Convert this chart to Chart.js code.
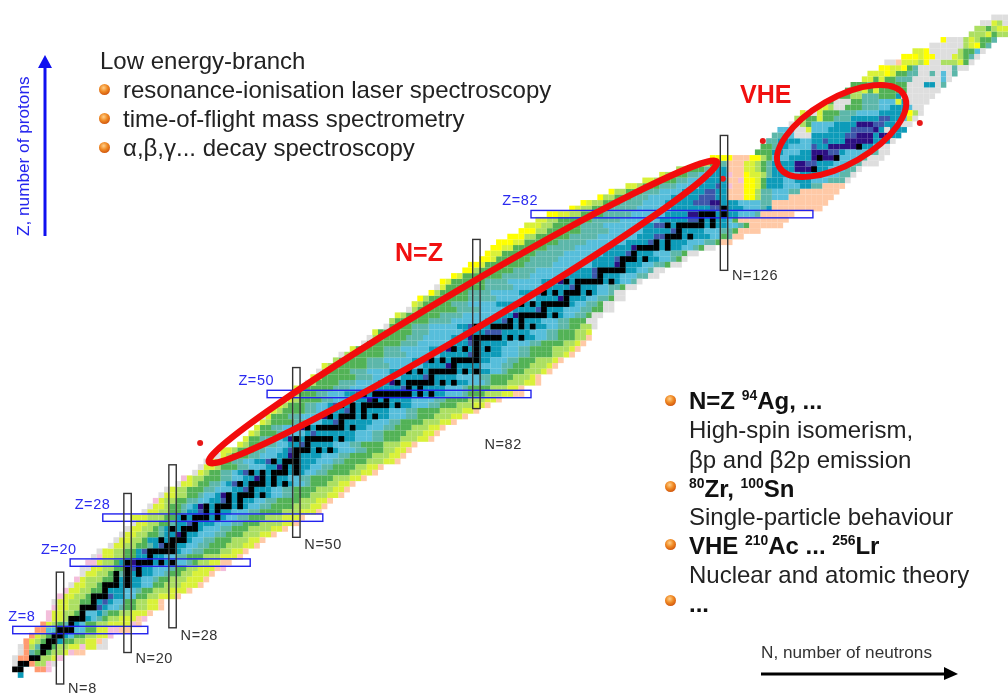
<!DOCTYPE html>
<html>
<head>
<meta charset="utf-8">
<title>Nuclear chart</title>
<script src="https://cdn.jsdelivr.net/npm/chart.js@4"></script>
<style>
html, body { margin: 0; padding: 0; background: #fff; }
#wrap { position: relative; width: 1008px; height: 696px; overflow: hidden; font-family: "Liberation Sans", Arial, sans-serif; color: #222; }
canvas { position: absolute; left: 0; top: 0; filter: blur(0.55px); }
.t { position: absolute; white-space: nowrap; font-size: 24px; line-height: 1; filter: blur(0.35px); }
.t b { color: #111; }
.t sup { font-size: 58%; line-height: 0; vertical-align: 0.62em; font-weight: bold; }
.ball { position: absolute; width: 11px; height: 11px; border-radius: 50%; background: radial-gradient(circle at 42% 35%, #ffcf8a 0%, #f08a24 40%, #c94a08 85%); filter: blur(0.3px); }
</style>
</head>
<body>
<div id="wrap">
<canvas id="myChart" width="1008" height="696"></canvas>

<div class="t" style="left:100px;top:49px">Low energy-branch</div>
<div class="t" style="left:123px;top:78px">resonance-ionisation laser spectroscopy</div>
<div class="t" style="left:123px;top:107px">time-of-flight mass spectrometry</div>
<div class="t" style="left:123px;top:136px">α,β,γ... decay spectroscopy</div>
<span class="ball" style="left:99px;top:84px"></span>
<span class="ball" style="left:99px;top:113px"></span>
<span class="ball" style="left:99px;top:142px"></span>

<div class="t" style="left:689px;top:389px"><b>N=Z <sup>94</sup>Ag, ...</b></div>
<div class="t" style="left:689px;top:418px">High-spin isomerism,</div>
<div class="t" style="left:689px;top:448px">βp and β2p emission</div>
<div class="t" style="left:689px;top:477px"><b><sup>80</sup>Zr, <sup>100</sup>Sn</b></div>
<div class="t" style="left:689px;top:505px">Single-particle behaviour</div>
<div class="t" style="left:689px;top:534px"><b>VHE <sup>210</sup>Ac ... <sup>256</sup>Lr</b></div>
<div class="t" style="left:689px;top:563px">Nuclear and atomic theory</div>
<div class="t" style="left:689px;top:592px"><b>...</b></div>
<span class="ball" style="left:665px;top:395px"></span>
<span class="ball" style="left:665px;top:481px"></span>
<span class="ball" style="left:665px;top:539px"></span>
<span class="ball" style="left:665px;top:595px"></span>

<div class="t" style="left:395px;top:240px;color:#f01010;font-weight:bold;font-size:25px">N=Z</div>
<div class="t" style="left:740px;top:82px;color:#f01010;font-weight:bold;font-size:25px">VHE</div>
<div class="t" style="left:761px;top:644px;font-size:17.2px;color:#333">N, number of neutrons</div>
<div class="t" style="left:15px;top:236px;font-size:17.2px;color:#2525ee;transform-origin:0 0;transform:rotate(-90deg)">Z, number of protons</div>
</div>

<script>
// first N of each row, index = Z
const rowStart = [1,0,0,0,1,1,2,3,4,5,6,6,7,7,8,9,10,11,12,12,13,14,15,17,18,19,20,21,21,23,24,25,26,27,29,30,32,33,34,36,
    37,40,41,42,43,44,44,46,47,49,50,50,52,53,54,55,57,58,60,62,63,64,66,67,68,70,71,72,74,75,76,78,80,81,83,84,85,86,88,90,
    91,93,95,99,101,104,106,109,112,115,118,122,124,132,133,134,135,136,138,139,140,143,145,147,148,149,151,152,154,155,158,160,163,165,170,171,172,174];

// colour runs of each row, letter + count, index = Z
const rowRuns = [
    "c1","_4r2q1","a1c2r1l2q1a1","a1r2c2l2m1q1","a1r1t1g3l2m1q1p2","a1r1l1t1c2g1l2m2q1m2a2",
    "r1m1l1g1t1c2g2l2m2p1a1","r1m1l1g1t1c2s1g2l2m2q1","r2s2c3s2g2m2q2p2","r1m1l1g1t1c2s1g2l2m4q1p1",
    "q1m2l1c4s1t1g1l2m3p1q1","q1m2l2g1c1s2c1t1g2l2m3p1","q1m2l2g1c2b1c1s2t1g2l2m2p1","a1m2l2g2c2b1c1s2g2l2m2p1",
    "q1m2l2g1t1c2b1c2s2g2l2m3p1","q1m2l2g2t1c2c1s2t1g2l3m3p1","a1m2l2g2t1c2i1c2s2g2l3m3p1","q1m1l3g2t1c2c1c1s2t1g2l3m3p1",
    "a1m2l2g2t1c2i1c2s2t1g2l2m3p1","a2m2l2g2t1b1c3s3t1g2l2m3p1q1","q2m1l2g1c2i1c7s2t1g1l2m2p2",
    "a1q1m2l2g2c2c1c2s2t2g3l3m3p1","a1m2l2g2c1b1c5c1s2t2g3l2m2p1","a1m2l2g2t1c1b1c2c2s2t2g3l3m2p1",
    "a1m2l2g1c2c5c1s2t2g3l3m2p1","a1m2l2g2t1c2i1c1c2s3t2g3l3m2p1","a1m2l2g1t1c1c5c1s3t2g3l4m2p1",
    "a1m2l2g2t1c2b1c1c3s3t2g3l4m2p1","m3l3g2c1c7c1s2t2g3l3m3p1","a1m2l2g2t1c2b1c3c2s3t2g4l3m3p1",
    "a1m2l1g2t1s1c1i1c7c1s2t2g4l3m2p1","q1m1l2g2t2s2c2b1c3c2s2t2g4l3m2p1","a1m2l2g2t1s2c1i1c7c1s2t2g3l3m2p1",
    "a1m1l2g3t2s3c2b1c1c3s2t2g4l3m2p1","a1m2l1g2t2s1c1b1c9c1s2t1g3l2m2p1","q1m1l2g3t2s2c2i1c3c2s2t2g4l3m2p1",
    "a1m1l1g2t2s1c1b1c9c1s2t2g4l2m2p1","a1m2l1g3t2s3c2i1c3c2s2t2g4l2m2p1","a1m1l1g2t2s2c2b1c5c3s3t2g4l3m2p1",
    "a1m1l1g3t2s3c2i1c1c4s3t2g4l3m2p1","m2l1g3t2s3c1b1c7c1s3t2g3l2m2p1","m1l1g3t2s2c2b1c1c4s3t2g4l3m2p1",
    "m1g2t2s2c1i1c9c2s3t2g3l3m2p1","m1l1g3t2s3c1b1c5c2s3t2g4l3m2p1","m1g2t2s2c1i1c9c2s3t2g3l3m2p1",
    "m1l1g4t2s3c2b1c1c5s3t2g4l3m2p1","a1m1g3t2s3c1i1c9c2s3t2g3l3m2p1","m1l1g4t2s3c2b1c3c4s3t2g4l4m2p1",
    "m1l1g3t2s2c1b1c11c2s3t2g3l3m2p1","m1l1g4t2s4c2i1c3c4s4t2g4l3m2p1","l1g3t2s3c2b1c13c2s3t1g3l3m2p2",
    "m1l1g5t3s5c4b1c3c4s3t1g4l3m2p1","a1l1g4t3s4c2i1c11c2s3t1g3l3m2p1","m1l1g6t3s5c4b1c1c4s4t2g4l3m1p1",
    "a1l1g4t3s4c2b1c13c2s2t1g3l3m1p1","m1l1g6t4s6c4i1c1c4s4t2g3l3m1p1","l1g5t3s5c2b1c9c2s3t2g3l3m1p1",
    "a1l1g6t4s6c5b1c1c4s3t2g4l2m1p1","m1g5t3s5c3i1c7c2s3t2g4l3m1p1","a1g6t3s6c3b1c1c5s4t2g4l2m1p1",
    "a1l1g5t3s5c3i1c9c2s2t2g3l2p1","m1g6t3s6c4b1b2c1c4s3t2g3l2m1","a1g4t3s5c2b1c11c2s2t2g2l2a1",
    "l1g6t4s6c3b1c3c3s3t2g3a2","m1l1g6t4s6c3i1c7c1s2t2g1a2","a1l1g7t4s6c4b1c1c3s3t2g2a2",
    "m1l1g5t3s5c3b1c9c1s2t2g1a2","y1l1g7t5s7c4i1c1c3s2t2g1a2","y1l1g5t4s5c3b1c9c1s2t1a2",
    "a1m1g7t5s6c4b1c1c3s2t2g1a2","y1m1g6t4s6c3i1c9c1s2t1a1","y1m1g7t5s6c5b1c1c3s3t2a2",
    "y2l1g6t4s6c4b1c5c2s2t1a2","y2m1g7t5s7c4i1c1c3s2t2g1a2","y2m1g6t5s6c4b1c5c2s2t1g1a1",
    "y1m2g6t5s7c4b1c1c3s3t2g1a2","y2m2g6t5s6c4i1c6c2s2t1g1a2","y3m2g6t5s7c4b1c3c3s3t2g1p2",
    "y3l2g6t5s7c3b2c5c3s2g1t1p2","y3l2g6t5s6c5b1c1c4s3t2g1p4","m3l2g5t4s6c3b2c9c2s2t1g1p6",
    "m2l2g6t5s7c5b2c3c2s1g1p9","y2m2l2g4t5s6c4i2c5c2s3t1p6","y1m1l2g3t5s6c7b2c4s3t1c1p9",
    "y1m1l2g3t4s4c5b3i2c1c2s4t2p10","y1l2g3t3s4c5b3c2p3y2l1t2s3p8","y1l2g3t3s4c4b2c1c1p3y2l1t2s3t2p7",
    "m2l1g3t3s4c3b1c1q1p2y2m1g1c3s3c2t2p4","m2l1g3t2s3c3c1p2q1y2m1g1c3s2c3s3t3a1","m1l1g3t2s2c2c1q1p2y1m2l1t1c3s2c4s3t2a1",
    "l2g3t2c2p3m2l1g1t1c4i4c2s3t2a1","l2g2t1p3m2l1g1t1c4i2b2c3s3t2a3","y4p3y2l1g1s3c4i5s4t1a3",
    "g3c2s3c2i3b2c1s4t2a2","g2t1c2s4b1c2i6c2s1a2","t2c4s2c2b1c3i5c3a1","t2s2a3c6b2i3c1i2c2",
    "s3a2m1s3c4b4i1c1a1c3","a2l1g1s4c4i3b2c2s1a2","l2g2m1g2t3c5b2c2s1m1a1","m1a2m1g3t3s4c5y1l1a1",
    "m2l1a2g3t3s2c3s1a2","g1a3g2t3s3m1c1a4","g2l2t3g3c1a6","g1l2m1g1m1g5a6","g3t4g3a3c2a1t1",
    "m2g1m1g2t3a5s1a1","m3y1m1g2t2a2t1a1s1a1t1","y2m2y1g1t1a6t1a2","a2p1m3l1y1a2l3m1g1a1",
    "y3m1y2a3m1l1g1t1a1","m2y1a5l1g2s1a1","a6l1m1y1g1t1","y1a3l1m1l1g2t1","l3m1g1l2","l2g1l1m2","a2m1l1a1","a3"
];

// long lived nuclei, N values by Z
const stableN = [
    [],[0,1],[1,2],[3,4],[5],[5,6],[6,7],[7,8],[8,9,10],[10],[10,11,12],[12],[12,13,14],[14],[14,15,16],[16],[16,17,18,20],[18,20],[18,20,22],[20,22],
    [20,22,23,24,26,28],[24],[24,25,26,27,28],[27,28],[26,28,29,30],[30],[28,30,31,32],[32],[30,32,33,34,36],[34,36],[34,36,37,38,40],[38,40],[38,40,41,42,44],[42],[40,42,43,44,46,48],[44,46],[42,44,46,47,48,50],[48,50],[46,48,49,50],[50],
    [50,51,52,54,56],[52],[50,52,53,54,55,56,58],[],[52,54,55,56,57,58,60],[58],[56,58,59,60,62,64],[60,62],[58,60,62,63,64,65,66,68],[64,66],[62,64,65,66,67,68,69,70,72,74],[70,72],[68,70,71,72,73,74,76,78],[74],[70,72,74,75,76,77,78,80,82],[78],[74,76,78,79,80,81,82],[82],[78,80,82,84],[82],
    [82,83,84,85,86,88,90],[],[82,85,86,87,88,90,92],[88,90],[90,91,92,93,94,96],[94],[90,92,94,95,96,97,98],[98],[94,96,98,99,100,102],[100],[98,100,101,102,103,104,106],[104],[104,105,106,107,108],[108],[108,109,110,112],[110],[111,112,113,114,116],[114,116],[116,117,118,120],[118],
    [116,118,119,120,121,122,124],[122,124],[122,123,124,126],[126],[],[],[],[],[],[],[142],[],[143,146],[],[150]
];

const colourKeys = ["a","p","q","r","y","m","l","g","t","s","c","b","i"];
const colourValues = ["#dedede","#ffc9a6","#f3bedb","#ff9a70","#ffff00","#d9f139","#acdf62","#52b256","#5db7aa","#57bedb","#0d9bb9","#3d57aa","#2c0f82"];

// predicted nuclei outside the known region
const dotN = [32.9,125.8,132.9,160.8];
const dotZ = [41.3,88.3,95,98.2];

const magicZ = [8,20,28,50,82];
const magicZFrom = [-0.4,9.8,15.6,44.8,91.7];
const magicZTo = [23.6,41.8,54.7,91.7,141.8];
const magicN = [8,20,28,50,82,126];
const magicNFrom = [-1.6,4,8.4,24.5,47.4,72];
const magicNTo = [18.3,32.3,37.4,54.7,77.5,96];

const zLabelN = [-1.2,4.6,10.6,39.7,86.6];
const nLabelZ = [-2.5,2.9,7,23.2,41,71];

const cellSets = {};
colourKeys.forEach((k) => { cellSets[k] = []; });
rowRuns.forEach((runs, z) => {
    let n = rowStart[z];
    for (const part of runs.match(/[a-z_]\d+/g)) {
        const key = part[0];
        const count = parseInt(part.slice(1));
        if (cellSets[key]) {
            for (let i = 0; i < count; i++) cellSets[key].push({ x: n + i, y: z });
        }
        n += count;
    }
});

const stableCells = [];
stableN.forEach((list, z) => list.forEach((n) => stableCells.push({ x: n, y: z })));

const datasets = colourKeys.map((k, i) => ({
    label: k,
    data: cellSets[k],
    pointStyle: "rect",
    pointRadius: 4.05,
    borderWidth: 0,
    backgroundColor: colourValues[i],
    order: 3,
}));
datasets.push({
    label: "stable",
    data: stableCells,
    pointStyle: "rect",
    pointRadius: 4.05,
    borderWidth: 0,
    backgroundColor: "#000",
    order: 2,
});
datasets.push({
    label: "predicted",
    data: dotN.map((n, i) => ({ x: n, y: dotZ[i] })),
    pointRadius: 3,
    borderWidth: 0,
    backgroundColor: "#e81818",
    order: 1,
});

const overlay = {
    id: "overlay",
    afterDatasetsDraw(chart) {
        const c = chart.ctx;
        const sx = chart.scales.x;
        const sy = chart.scales.y;
        c.save();

        // shell closures
        c.lineWidth = 1.4;
        c.strokeStyle = "#2222ee";
        magicZ.forEach((z, i) => {
            const x0 = sx.getPixelForValue(magicZFrom[i]);
            const x1 = sx.getPixelForValue(magicZTo[i]);
            c.strokeRect(x0, sy.getPixelForValue(z) - 3.7, x1 - x0, 7.4);
        });
        c.strokeStyle = "#333";
        magicN.forEach((n, i) => {
            const y0 = sy.getPixelForValue(magicNTo[i]);
            const y1 = sy.getPixelForValue(magicNFrom[i]);
            c.strokeRect(sx.getPixelForValue(n) - 3.7, y0, 7.4, y1 - y0);
        });

        c.font = "14.5px 'Liberation Sans'";
        c.letterSpacing = "0.6px";
        c.textBaseline = "middle";
        c.fillStyle = "#2a2af0";
        magicZ.forEach((z, i) => {
            c.fillText("Z=" + z, sx.getPixelForValue(zLabelN[i]), sy.getPixelForValue(z + 2.3));
        });
        c.fillStyle = "#333";
        magicN.forEach((n, i) => {
            c.fillText("N=" + n, sx.getPixelForValue(n) + 8, sy.getPixelForValue(nLabelZ[i]));
        });

        // regions of interest
        c.strokeStyle = "#f20c0c";
        c.lineWidth = 6.5;
        c.beginPath();
        c.ellipse(sx.getPixelForValue(79.6), sy.getPixelForValue(64.6), 295, 21, -30.6 * Math.PI / 180, 0, 2 * Math.PI);
        c.stroke();
        c.lineWidth = 6;
        c.beginPath();
        c.ellipse(sx.getPixelForValue(146.9), sy.getPixelForValue(96.8), 72, 33, -30 * Math.PI / 180, 0, 2 * Math.PI);
        c.stroke();

        // axis arrows
        c.strokeStyle = c.fillStyle = "#1010f0";
        c.lineWidth = 3;
        c.beginPath();
        c.moveTo(45, 236);
        c.lineTo(45, 66);
        c.stroke();
        c.beginPath();
        c.moveTo(45, 55);
        c.lineTo(52, 68);
        c.lineTo(38, 68);
        c.fill();
        c.strokeStyle = c.fillStyle = "#000";
        c.beginPath();
        c.moveTo(761, 674);
        c.lineTo(946, 674);
        c.stroke();
        c.beginPath();
        c.moveTo(958, 674);
        c.lineTo(944, 667);
        c.lineTo(944, 680);
        c.fill();
        c.restore();
    },
};

const ctx = document.getElementById("myChart").getContext("2d");
new Chart(ctx, {
    type: "scatter",
    data: { datasets: datasets },
    options: {
        responsive: false,
        animation: false,
        events: [],
        layout: { padding: 0, autoPadding: false },
        plugins: { legend: { display: false }, tooltip: { enabled: false } },
        scales: {
            x: { type: "linear", display: false, min: -2.666, max: 176.47 },
            y: { type: "linear", display: false, min: -3.737, max: 120.1 },
        },
    },
    plugins: [overlay],
});
</script>
</body>
</html>
